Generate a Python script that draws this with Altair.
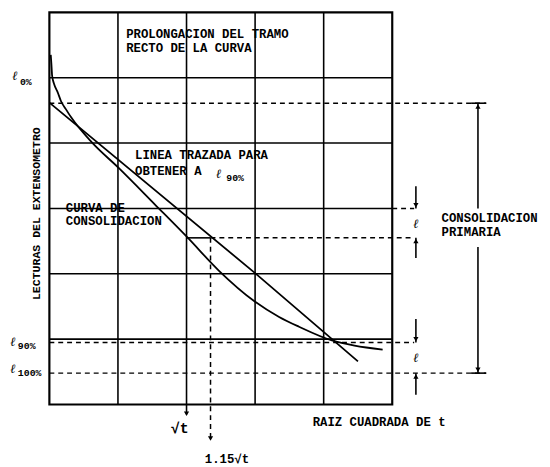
import altair as alt
import pandas as pd

# Coordinates in grid divisions: x = divisions of sqrt(t) (0..5), y = dial-reading divisions (0..6, downward)
curve_x = [0.02, 0.03, 0.04, 0.07, 0.12, 0.17, 0.24, 0.32, 0.62, 1.01, 1.54, 2.01, 2.47, 2.99, 3.35, 3.64, 4.12, 4.45, 4.86]
curve_y = [0.65, 0.80, 0.97, 1.10, 1.22, 1.36, 1.48, 1.61, 1.99, 2.38, 2.94, 3.44, 3.95, 4.42, 4.66, 4.81, 5.02, 5.10, 5.16]
line_x = [0.0, 3.0, 4.5]
line_y = [1.38, 3.99, 5.34]

L0 = 1.39
L_MID = 3.45
L90 = 5.05
L100 = 5.52
SQRT_T = 2.0
SQRT_T115 = 2.35
GRID_X = [1, 2, 3, 4]
GRID_Y = [1, 2, 3, 4, 5]

# dashed construction lines (x, x2, y, y2)
dash_x = [0.0, SQRT_T115, 5.0, 0.0, 0.0, SQRT_T115]
dash_x2 = [6.37, 5.32, 5.32, 5.32, 6.37, SQRT_T115]
dash_y = [L0, L_MID, 3.0, L90, L100, L_MID]
dash_y2 = [L0, L_MID, 3.0, L90, L100, 6.55]

# solid construction lines
sol_x = [SQRT_T, SQRT_T, 5.345, 5.345, 5.345, 5.345, 6.25, 6.25, 6.15, 6.15]
sol_x2 = [SQRT_T115, SQRT_T, 5.345, 5.345, 5.345, 5.345, 6.25, 6.25, 6.37, 6.37]
sol_y = [L_MID, 6.0, 2.66, L_MID, 4.69, L100, L0, 3.59, L0, L100]
sol_y2 = [L_MID, 6.15, 3.0, 3.76, L90, 5.85, 3.0, L100, L0, L100]

# arrow heads
arr_x = [SQRT_T, SQRT_T115, 5.345, 5.345, 5.345, 5.345, 6.25, 6.25]
arr_y = [6.14, 6.52, 2.95, 3.50, 5.00, 5.57, 1.44, 5.47]
arr_shape = ["triangle-down", "triangle-down", "triangle-down", "triangle-up",
             "triangle-down", "triangle-up", "triangle-up", "triangle-down"]

# texts
lt_text = ["PROLONGACION DEL TRAMO", "RECTO DE LA CURVA", "LINEA TRAZADA PARA", "OBTENER A",
           "CURVA DE", "CONSOLIDACION", "CONSOLIDACION", "PRIMARIA", "RAIZ CUADRADA DE t"]
lt_x = [1.12, 1.12, 1.25, 1.25, 0.24, 0.24, 5.72, 5.72, 3.84]
lt_y = [0.33, 0.54, 2.18, 2.43, 3.00, 3.20, 3.14, 3.36, 6.27]

ell_x = [-0.50, -0.53, -0.53, 2.47, 5.345, 5.345]
ell_y = [0.97, 5.04, 5.46, 2.47, 3.24, 5.29]

sub_text = ["0%", "90%", "100%", "90%"]
sub_x = [-0.43, -0.46, -0.46, 2.58]
sub_y = [1.07, 5.11, 5.52, 2.53]

ct_text = ["\u221at", "1.15\u221at"]
ct_x = [1.90, 2.59]
ct_y = [6.36, 6.83]
ct_size = [15, 12.5]

FONT = "Liberation Mono"

xs = alt.Scale(domain=[0, 5], nice=False, zero=False)
ys = alt.Scale(domain=[0, 6], nice=False, zero=False, reverse=True)


def X(field="x"):
    return alt.X(field + ":Q", scale=xs, axis=None)


def Y(field="y"):
    return alt.Y(field + ":Q", scale=ys, axis=None)


curve_df = pd.DataFrame({"x": curve_x, "y": curve_y, "i": range(len(curve_x))})
line_df = pd.DataFrame({"x": line_x, "y": line_y, "i": range(len(line_x))})
gx_df = pd.DataFrame({"x": GRID_X, "y": [0] * len(GRID_X), "y2": [6] * len(GRID_X)})
gy_df = pd.DataFrame({"y": GRID_Y, "x": [0] * len(GRID_Y), "x2": [5] * len(GRID_Y)})
dash_df = pd.DataFrame({"x": dash_x, "x2": dash_x2, "y": dash_y, "y2": dash_y2})
sol_df = pd.DataFrame({"x": sol_x, "x2": sol_x2, "y": sol_y, "y2": sol_y2})
arr_df = pd.DataFrame({"x": arr_x, "y": arr_y, "shape": arr_shape})
lt_df = pd.DataFrame({"x": lt_x, "y": lt_y, "t": lt_text})
ell_df = pd.DataFrame({"x": ell_x, "y": ell_y, "t": ["\u2113"] * len(ell_x)})
sub_df = pd.DataFrame({"x": sub_x, "y": sub_y, "t": sub_text})
ct_df = pd.DataFrame({"x": ct_x, "y": ct_y, "t": ct_text, "s": ct_size})
title_df = pd.DataFrame({"x": [-0.19], "y": [3.08], "t": ["LECTURAS DEL EXTENSOMETRO"]})

gridx = alt.Chart(gx_df).mark_rule(color="black", strokeWidth=1.6).encode(
    x=X(), y=Y(), y2="y2:Q")
gridy = alt.Chart(gy_df).mark_rule(color="black", strokeWidth=1.6).encode(
    x=X(), x2="x2:Q", y=Y())
curve = alt.Chart(curve_df).mark_line(color="black", strokeWidth=1.8, interpolate="monotone").encode(
    x=X(), y=Y(), order="i:Q")
sline = alt.Chart(line_df).mark_line(color="black", strokeWidth=1.8).encode(
    x=X(), y=Y(), order="i:Q")
dashes = alt.Chart(dash_df).mark_rule(color="black", strokeWidth=1.5, strokeDash=[5, 4]).encode(
    x=X(), x2="x2:Q", y=Y(), y2="y2:Q")
solids = alt.Chart(sol_df).mark_rule(color="black", strokeWidth=1.6).encode(
    x=X(), x2="x2:Q", y=Y(), y2="y2:Q")
arrows = alt.Chart(arr_df).mark_point(filled=True, color="black", size=28, opacity=1).encode(
    x=X(), y=Y(), shape=alt.Shape("shape:N", scale=None, legend=None))
ltext = alt.Chart(lt_df).mark_text(align="left", baseline="middle", font=FONT, fontSize=12.5,
                                   fontWeight="bold", color="black").encode(x=X(), y=Y(), text="t:N")
ells = alt.Chart(ell_df).mark_text(align="center", baseline="middle", font="DejaVu Serif",
                                   fontSize=13, fontStyle="italic", fontWeight="bold",
                                   color="black").encode(x=X(), y=Y(), text="t:N")
subs = alt.Chart(sub_df).mark_text(align="left", baseline="middle", font=FONT, fontSize=10,
                                   fontWeight="bold", color="black").encode(x=X(), y=Y(), text="t:N")
ctext = alt.Chart(ct_df).mark_text(align="center", baseline="middle", font=FONT, fontWeight="bold",
                                   color="black").encode(x=X(), y=Y(), text="t:N",
                                                         size=alt.Size("s:Q", scale=None, legend=None))
ytitle = alt.Chart(title_df).mark_text(align="center", baseline="middle", font=FONT, fontSize=11.7,
                                       fontWeight="bold", angle=270, color="black").encode(
    x=X(), y=Y(), text="t:N")

chart = alt.layer(gridx, gridy, curve, sline, dashes, solids, arrows, ltext, ells, subs, ctext,
                  ytitle).properties(
    width=348, height=398,
    autosize=alt.AutoSizeParams(type="none"),
    padding={"left": 42, "top": 1, "right": 152, "bottom": 60},
    background="white",
).configure_view(stroke="black", strokeWidth=2.2)

chart.save("out.html", embed_options={"renderer": "svg", "actions": False})
